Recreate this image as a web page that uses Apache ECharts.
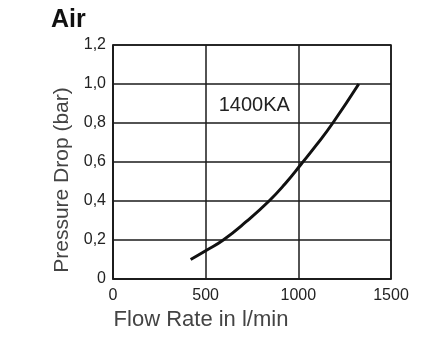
<!DOCTYPE html>
<html>
<head>
<meta charset="utf-8">
<script src="https://cdn.jsdelivr.net/npm/echarts@6/dist/echarts.min.js"></script>
<style>html,body{margin:0;padding:0;background:#fff;}#c{width:442px;height:344px;}</style>
</head>
<body>
<div id="c"></div>
<script>
var flowRate = [419, 500, 595, 720, 842, 930, 1016, 1100, 1186, 1326];
var pressureDrop = [0.10, 0.145, 0.20, 0.295, 0.40, 0.49, 0.59, 0.69, 0.80, 1.00];
var seriesName = '1400KA';
var labelPos = [762, 0.89];
var xTicks = [0, 500, 1000, 1500];
var yTicks = [0, 0.2, 0.4, 0.6, 0.8, 1.0, 1.2];

var data = flowRate.map(function (f, i) { return [f, pressureDrop[i]]; });
var font = '"Liberation Sans", Arial, Helvetica, sans-serif';
var lineCol = '#1a1a1a';

var chart = echarts.init(document.getElementById('c'), null, {renderer: 'canvas'});
chart.setOption({
  animation: false,
  backgroundColor: '#fff',
  title: {
    text: 'Air', left: 46, top: 3,
    textStyle: {fontFamily: font, fontSize: 25, fontWeight: 'bold', color: '#111'}
  },
  grid: {left: 113, right: 51, top: 45, bottom: 65, show: true, borderColor: lineCol, borderWidth: 1.5},
  xAxis: {
    type: 'value', min: xTicks[0], max: xTicks[xTicks.length - 1], interval: 500,
    name: 'Flow Rate in l/min', nameLocation: 'middle', nameGap: 28,
    nameTextStyle: {fontFamily: font, fontSize: 22, color: '#444', padding: [0, 102, 0, 0]},
    axisLine: {show: true, lineStyle: {color: lineCol, width: 1.5}},
    axisTick: {show: false},
    axisLabel: {fontFamily: font, fontSize: 16, color: '#222', margin: 9,
      formatter: function (v) { return String(v); }},
    splitLine: {show: true, lineStyle: {color: lineCol, width: 1.5}}
  },
  yAxis: {
    type: 'value', min: yTicks[0], max: yTicks[yTicks.length - 1], interval: 0.2,
    name: 'Pressure Drop (bar)', nameLocation: 'middle', nameGap: 40,
    nameTextStyle: {fontFamily: font, fontSize: 21, color: '#444', padding: [0, 36, 0, 0]},
    axisLine: {show: true, lineStyle: {color: lineCol, width: 1.5}},
    axisTick: {show: false},
    axisLabel: {fontFamily: font, fontSize: 16, color: '#222', margin: 7,
      formatter: function (v) { return v === 0 ? '0' : v.toFixed(1).replace('.', ','); }},
    splitLine: {show: true, lineStyle: {color: lineCol, width: 1.5}}
  },
  series: [{
    name: seriesName,
    type: 'line',
    data: data,
    smooth: 0.5,
    showSymbol: false,
    lineStyle: {color: '#111', width: 3},
    markPoint: {
      symbol: 'circle', symbolSize: 0,
      data: [{coord: labelPos, value: seriesName}],
      label: {show: true, position: 'inside', formatter: seriesName,
        fontFamily: font, fontSize: 20, color: '#222'}
    }
  }]
});
</script>
</body>
</html>
